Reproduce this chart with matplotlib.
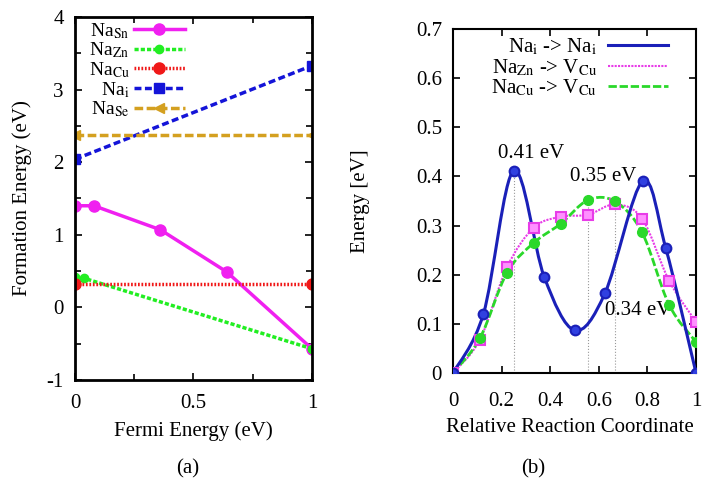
import numpy as np
import matplotlib
matplotlib.use("Agg")
import matplotlib.pyplot as plt
from matplotlib.path import Path
from matplotlib.patches import PathPatch

plt.rcParams['font.family'] = ['Liberation Serif', 'DejaVu Serif']
plt.rcParams['mathtext.fontset'] = 'stix'
plt.rcParams['axes.unicode_minus'] = False

# (a) formation energies vs Fermi level
fermi_sn = [0.0, 0.08, 0.36, 0.64, 1.0]
form_sn = [1.40, 1.40, 1.07, 0.49, -0.57]
fermi_zn = [0.0, 0.04, 1.0]
form_zn = [0.42, 0.40, -0.57]
fermi_cu = [0.0, 1.0]
form_cu = [0.32, 0.32]
fermi_i = [0.0, 1.0]
form_i = [2.04, 3.33]
fermi_se = [0.0, 1.0]
form_se = [2.37, 2.37]

# (b) migration barriers
coord_nai = [0.0, 0.125, 0.25, 0.375, 0.5, 0.625, 0.78, 0.875, 1.0]
energy_nai = [0.0, 0.12, 0.412, 0.196, 0.087, 0.162, 0.39, 0.255, 0.0]
coord_neb = [0.0, 0.111, 0.222, 0.333, 0.444, 0.556, 0.667, 0.778, 0.889, 1.0]
energy_nazn = [0.0, 0.068, 0.215, 0.296, 0.318, 0.322, 0.343, 0.314, 0.188, 0.104]
energy_nacu = [0.0, 0.071, 0.204, 0.265, 0.304, 0.352, 0.349, 0.286, 0.139, 0.063]
barrier_x = [0.25, 0.556, 0.667]
barrier_y = [0.412, 0.352, 0.343]
barrier_labels = ['0.41 eV', '0.35 eV', '0.34 eV']


def smooth_path(xs, ys):
    """Catmull-Rom curve through the points, drawn as Bezier segments."""
    p = np.column_stack([xs, ys]).astype(float)
    pad = np.vstack([p[0], p, p[-1]])
    verts = [p[0]]
    codes = [Path.MOVETO]
    for i in range(1, len(pad) - 2):
        p0, p1, p2, p3 = pad[i - 1], pad[i], pad[i + 1], pad[i + 2]
        verts += [p1 + (p2 - p0) / 6.0, p2 - (p3 - p1) / 6.0, p2]
        codes += [Path.CURVE4] * 3
    return Path(verts, codes)


def style_axes(ax, lw, xpad):
    for s in ax.spines.values():
        s.set_linewidth(lw)
    ax.tick_params(which='both', direction='in', top=True, right=True,
                   labelsize=15, width=1.2, pad=8)
    ax.tick_params(axis='x', pad=xpad)
    ax.tick_params(which='major', length=5)
    ax.tick_params(which='minor', length=4)


fig = plt.figure(figsize=(7.02, 4.79), dpi=100)
ax1 = fig.add_axes([0.1068, 0.2067, 0.3376, 0.7578])
ax2 = fig.add_axes([0.6453, 0.2213, 0.3462, 0.7182])

magenta = '#f020f0'
green = '#22ee22'
red = '#f01818'
blue = '#1414d8'
gold = '#d4a020'

ax1.plot(fermi_sn, form_sn, '-', color=magenta, lw=2.5, marker='o', ms=8,
         label=r'Na$_{\mathrm{Sn}}$')
ax1.plot(fermi_zn, form_zn, color=green, lw=2.5, ls=(0, (1.2, 0.6)), marker='o', ms=6,
         label=r'Na$_{\mathrm{Zn}}$')
ax1.plot(fermi_cu, form_cu, color=red, lw=2.5, ls=(0, (0.5, 0.5)), marker='o', ms=8,
         label=r'Na$_{\mathrm{Cu}}$')
ax1.plot(fermi_i, form_i, color=blue, lw=2.5, ls=(0, (2, 1)), marker='s', ms=7,
         label=r'Na$_{\mathrm{i}}$')
ax1.plot(fermi_se, form_se, color=gold, lw=2.5, ls=(0, (2.5, 1)), marker='<', ms=7,
         label=r'Na$_{\mathrm{Se}}$')

ax1.set_xlim(0, 1)
ax1.set_ylim(-1, 4)
ax1.set_xticks([0, 0.5, 1])
ax1.set_xticklabels(['0', '0.5', '1'])
ax1.set_xticks([0.25, 0.75], minor=True)
ax1.set_yticks([-1, 0, 1, 2, 3, 4])
ax1.set_yticks([-0.5, 0.5, 1.5, 2.5, 3.5], minor=True)
style_axes(ax1, 2.0, 10)
ax1.set_xlabel('Fermi Energy (eV)', fontsize=15)
ax1.xaxis.set_label_coords(0.5, -0.113)
ax1.set_ylabel('Formation Energy (eV)', fontsize=15)
ax1.yaxis.set_label_coords(-0.18, 0.5)
ax1.legend(loc='upper left', bbox_to_anchor=(0.0, 1.027), frameon=False,
           markerfirst=False, fontsize=14, handlelength=2.6, handletextpad=0.25,
           labelspacing=0.0, numpoints=1, borderpad=0.2)

# (b)
nai_c = '#1a20b8'
pink = '#e83ce8'
lgreen = '#2ad82a'
for bx, by in zip(barrier_x, barrier_y):
    ax2.plot([bx, bx], [0, by], color='#999999', lw=0.8, ls=':', zorder=1)

ax2.add_patch(PathPatch(smooth_path(coord_neb, energy_nazn), fill=False,
                        edgecolor=pink, lw=1.5, ls=(0, (1, 0.6)), zorder=2))
ax2.add_patch(PathPatch(smooth_path(coord_neb, energy_nacu), fill=False,
                        edgecolor=lgreen, lw=2.0, ls=(0, (3, 1)), zorder=3))
ax2.add_patch(PathPatch(smooth_path(coord_nai, energy_nai), fill=False,
                        edgecolor=nai_c, lw=2.2, zorder=4))
ax2.plot(coord_neb, energy_nazn, 's', ls='none', ms=7, mfc='#ff90ff', mec=pink,
         mew=1.5, zorder=5)
ax2.plot(coord_neb, energy_nacu, 'o', ls='none', ms=7, color=lgreen, zorder=6)
ax2.plot(coord_nai, energy_nai, 'o', ls='none', ms=7, mfc='#3040e0', mec=nai_c,
         mew=1.5, zorder=7)

ax2.plot([], [], color=nai_c, lw=2.2, label=r'Na$_{\mathrm{i}}$ -> Na$_{\mathrm{i}}$')
ax2.plot([], [], color=pink, lw=1.5, ls=(0, (1, 0.6)),
         label=r'Na$_{\mathrm{Zn}}$ -> V$_{\mathrm{Cu}}$')
ax2.plot([], [], color=lgreen, lw=2.0, ls=(0, (3, 1)),
         label=r'Na$_{\mathrm{Cu}}$ -> V$_{\mathrm{Cu}}$')

ax2.text(0.32, 0.447, barrier_labels[0], fontsize=15, ha='center', va='center')
ax2.text(0.62, 0.40, barrier_labels[1], fontsize=15, ha='center', va='center')
ax2.text(0.76, 0.128, barrier_labels[2], fontsize=15, ha='center', va='center')

ax2.set_xlim(0, 1)
ax2.set_ylim(0, 0.7)
ax2.set_xticks([0, 0.2, 0.4, 0.6, 0.8, 1])
ax2.set_xticklabels(['0', '0.2', '0.4', '0.6', '0.8', '1'])
ax2.set_yticks([0, 0.1, 0.2, 0.3, 0.4, 0.5, 0.6, 0.7])
ax2.set_yticklabels(['0', '0.1', '0.2', '0.3', '0.4', '0.5', '0.6', '0.7'])
style_axes(ax2, 1.5, 14)
ax2.set_xlabel('Relative Reaction Coordinate', fontsize=15)
ax2.xaxis.set_label_coords(0.48, -0.131)
ax2.set_ylabel('Energy [eV]', fontsize=15)
ax2.yaxis.set_label_coords(-0.34, 0.5)
ax2.legend(loc='upper right', bbox_to_anchor=(0.945, 1.02), frameon=False,
           markerfirst=False, fontsize=15, handlelength=2.9, handletextpad=0.5,
           labelspacing=0.0, borderpad=0.2)

fig.text(0.267, 0.022, '(a)', fontsize=15, ha='center', va='center')
fig.text(0.759, 0.022, '(b)', fontsize=15, ha='center', va='center')

fig.savefig('out.png', dpi=100, facecolor='white')
